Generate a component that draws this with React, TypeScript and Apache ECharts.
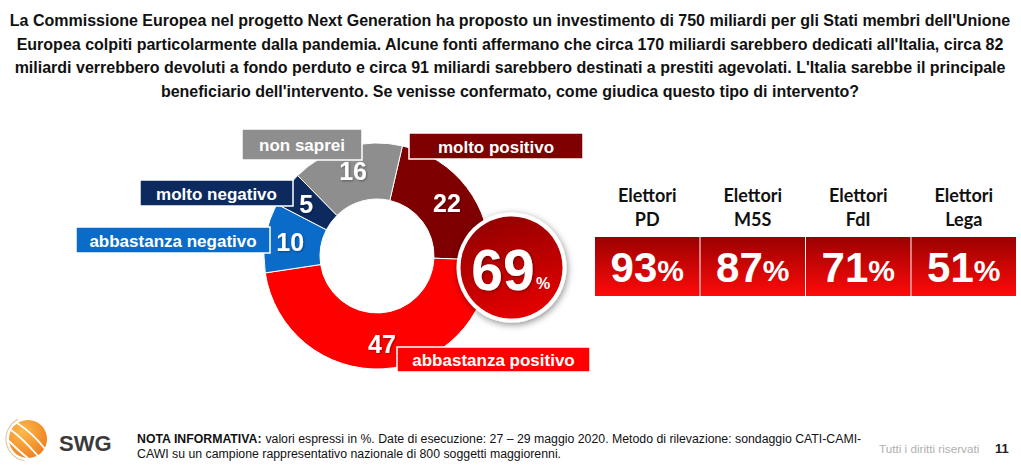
import React, { useEffect, useRef } from 'react';
import * as echarts from 'echarts';

const categories = ['molto positivo', 'abbastanza positivo', 'abbastanza negativo', 'molto negativo', 'non saprei'];
const values = [22, 47, 10, 5, 16];
const colors = ['#7E0000', '#FF0000', '#0B6BC9', '#0D2A5E', '#8E8E8E'];
const positiveTotal = 69;
const groups = ['PD', 'M5S', 'FdI', 'Lega'];
const groupValues = [93, 87, 71, 51];
const titleLines = [
  "La Commissione Europea nel progetto Next Generation ha proposto un investimento di 750 miliardi per gli Stati membri dell'Unione",
  "Europea colpiti particolarmente dalla pandemia. Alcune fonti affermano che circa 170 miliardi sarebbero dedicati all'Italia, circa 82",
  "miliardi verrebbero devoluti a fondo perduto e circa 91 miliardi sarebbero destinati a prestiti agevolati. L'Italia sarebbe il principale",
  "beneficiario dell'intervento. Se venisse confermato, come giudica questo tipo di intervento?",
];
const noteBold = 'NOTA INFORMATIVA:';
const noteLines = [
  ' valori espressi in %. Date di esecuzione: 27 – 29 maggio 2020. Metodo di rilevazione: sondaggio CATI-CAMI-',
  'CAWI su un campione rappresentativo nazionale di 800 soggetti maggiorenni.',
];

// layout of the category label boxes (same order as categories)
const boxLayout = [
  { x: 409, y: 133, w: 174, h: 26 },
  { x: 397, y: 347, w: 193, h: 25 },
  { x: 76, y: 227, w: 194, h: 26 },
  { x: 140, y: 180, w: 153, h: 26 },
  { x: 242, y: 129, w: 120, h: 31 },
];

const NARROW = '"Liberation Sans Narrow", "Arial Narrow", "Liberation Sans", Arial, sans-serif';
const SANS = '"Liberation Sans", Arial, sans-serif';

export default function App() {
  const ref = useRef<HTMLDivElement>(null);
  useEffect(() => {
    document.body.style.margin = '0';
    const chart = echarts.init(ref.current!, null, { renderer: 'svg' });

    const graphics: any[] = [];

    // title
    graphics.push({
      type: 'text', x: 510, y: 9, z: 10,
      style: {
        text: titleLines.join('\n'), textAlign: 'center', textVerticalAlign: 'top',
        font: `bold 16px ${NARROW}`, lineHeight: 23.5, fill: '#111',
      },
    });

    // category label boxes
    categories.forEach((c, i) => {
      const b = boxLayout[i];
      graphics.push({
        type: 'rect', z: 20, shape: { x: b.x, y: b.y, width: b.w, height: b.h },
        style: { fill: colors[i], stroke: '#fff', lineWidth: 1.5 },
      });
      graphics.push({
        type: 'text', z: 21, x: b.x + b.w / 2, y: b.y + b.h / 2 + 1,
        style: { text: c, textAlign: 'center', textVerticalAlign: 'middle', font: `bold 17px ${SANS}`, fill: '#fff' },
      });
    });

    // 69% circle
    graphics.push({
      type: 'circle', z: 30, shape: { cx: 511.5, cy: 267.5, r: 53 },
      style: {
        fill: { type: 'linear', x: 0, y: 0, x2: 0.3, y2: 1, colorStops: [{ offset: 0, color: '#8A0000' }, { offset: 1, color: '#E00000' }] },
        stroke: '#fff', lineWidth: 4, shadowBlur: 7, shadowColor: 'rgba(0,0,0,0.45)', shadowOffsetX: 1, shadowOffsetY: 2,
      },
    });
    graphics.push({
      type: 'text', z: 31, x: 503, y: 270,
      style: {
        text: `${positiveTotal}`, textAlign: 'center', textVerticalAlign: 'middle',
        font: `bold 57px ${SANS}`, fill: '#fff', textShadowColor: 'rgba(0,0,0,0.4)', textShadowBlur: 3, textShadowOffsetX: 1, textShadowOffsetY: 1,
      },
    });
    graphics.push({
      type: 'text', z: 31, x: 536, y: 283,
      style: { text: '%', textAlign: 'left', textVerticalAlign: 'middle', font: `bold 16px ${SANS}`, fill: '#fff' },
    });

    // right panel
    const px0 = 595, pw = 104.5, pstep = 105.5;
    groups.forEach((g, i) => {
      const x = px0 + i * pstep;
      graphics.push({
        type: 'text', x: x + pw / 2, y: 183, z: 10,
        style: { text: `Elettori\n${g}`, textAlign: 'center', textVerticalAlign: 'top', font: `bold 18px Lato, "Open Sans", sans-serif`, lineHeight: 24, fill: '#111' },
      });
      graphics.push({
        type: 'rect', z: 10, shape: { x, y: 237, width: pw, height: 59 },
        style: { fill: { type: 'linear', x: 0, y: 0, x2: 0, y2: 1, colorStops: [{ offset: 0, color: '#9A0000' }, { offset: 1, color: '#FF0A0A' }] } },
      });
      graphics.push({
        type: 'text', x: x + pw / 2, y: 267, z: 11,
        style: {
          text: `{v|${groupValues[i]}}{p|%}`, textAlign: 'center', textVerticalAlign: 'middle',
          rich: {
            v: { font: `bold 42px ${SANS}`, fill: '#fff' },
            p: { font: `bold 30px ${SANS}`, fill: '#fff', padding: [6, 0, 0, 0] },
          },
        },
      });
    });

    // footer logo
    graphics.push({
      type: 'arc', z: 9, shape: { cx: 28, cy: 439, r: 22, startAngle: Math.PI * 0.55, endAngle: Math.PI * 1.35 },
      style: { stroke: '#e8c8a8', lineWidth: 1.2, fill: null },
    });
    graphics.push({
      type: 'circle', z: 10, shape: { cx: 28, cy: 439, r: 19 },
      style: { fill: { type: 'radial', x: 0.35, y: 0.3, r: 0.85, colorStops: [{ offset: 0, color: '#FDB94A' }, { offset: 1, color: '#EC7A1C' }] } },
    });
    [
      { x1: 11, y1: 430, x2: 38, y2: 456, cpx1: 22, cpy1: 438, cpx2: 31, cpy2: 448 },
      { x1: 17, y1: 423, x2: 45, y2: 449, cpx1: 28, cpy1: 430, cpx2: 38, cpy2: 440 },
      { x1: 9, y1: 441, x2: 28, y2: 458, cpx1: 16, cpy1: 448, cpx2: 22, cpy2: 454 },
    ].forEach((s) => {
      graphics.push({ type: 'bezierCurve', z: 11, shape: s, style: { stroke: '#fff', lineWidth: 1.8, fill: null } });
    });
    graphics.push({ type: 'text', z: 10, x: 59, y: 443, style: { text: 'SWG', textVerticalAlign: 'middle', font: `bold 22px ${SANS}`, fill: '#3a3a3a' } });

    // footer note
    graphics.push({
      type: 'text', x: 137, y: 431, z: 10,
      style: {
        text: `{b|${noteBold}}{n|${noteLines[0]}}\n{n|${noteLines[1]}}`, textVerticalAlign: 'top',
        rich: {
          b: { font: `bold 12.3px ${NARROW}`, fill: '#111', lineHeight: 15 },
          n: { font: `12.3px ${NARROW}`, fill: '#111', lineHeight: 15 },
        },
      },
    });
    graphics.push({
      type: 'text', x: 879, y: 448, z: 10,
      style: { text: 'Tutti i diritti riservati', textVerticalAlign: 'middle', font: `11.7px ${NARROW}`, fill: '#b0b0b0' },
    });
    graphics.push({
      type: 'text', x: 995, y: 448, z: 10,
      style: { text: '11', textVerticalAlign: 'middle', font: `bold 13px ${NARROW}`, fill: '#222' },
    });

    chart.setOption({
      animation: false,
      backgroundColor: '#fff',
      series: [
        {
          type: 'pie', center: [377, 256], radius: [57, 113], startAngle: 77, clockwise: true, silent: true, z: 1,
          data: categories.map((c, i) => ({ name: c, value: values[i], itemStyle: { color: colors[i] } })),
          itemStyle: { borderColor: '#fff', borderWidth: 1 },
          label: {
            show: true, position: 'inside', formatter: '{c}', color: '#fff', fontSize: 25, fontWeight: 'bold', fontFamily: SANS,
            textShadowColor: 'rgba(0,0,0,0.35)', textShadowBlur: 2, textShadowOffsetX: 1, textShadowOffsetY: 1,
          },
          labelLine: { show: false },
        },
      ],
      graphic: graphics,
    });
    return () => chart.dispose();
  }, []);
  return <div ref={ref} style={{ width: 1021, height: 469 }} />;
}
